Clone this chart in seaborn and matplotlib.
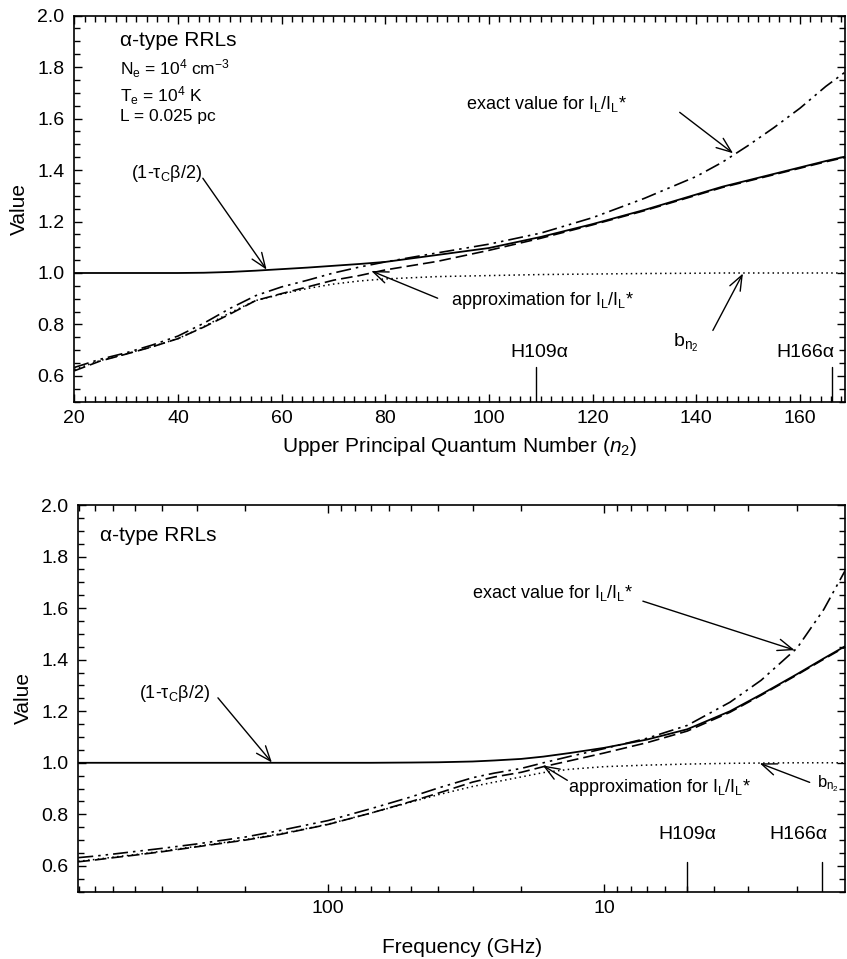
import numpy as np
import pandas as pd
import matplotlib
matplotlib.use("Agg")
import matplotlib.pyplot as plt
import seaborn as sns
from matplotlib.ticker import MultipleLocator, FixedLocator, NullFormatter, FuncFormatter

# ---------------- data: top panel (vs upper principal quantum number) ----------------
n_top = [20, 25, 30, 35, 40, 45, 50, 55, 60, 65, 70, 75, 80, 90, 100, 110, 120,
         130, 140, 145, 150, 155, 160, 165, 168.7]
top_tau = [1.0, 1.0, 1.0, 1.0, 1.0, 1.001, 1.004, 1.009, 1.015, 1.021, 1.028, 1.035,
           1.043, 1.07, 1.097, 1.14, 1.19, 1.245, 1.305, 1.335, 1.36, 1.385, 1.41, 1.435, 1.452]
top_exact = [0.633, 0.665, 0.69, 0.72, 0.755, 0.805, 0.862, 0.912, 0.946, 0.972, 1.0, 1.023,
             1.043, 1.078, 1.112, 1.155, 1.215, 1.29, 1.375, 1.43, 1.495, 1.565, 1.64, 1.725, 1.78]
top_approx = [0.62, 0.658, 0.685, 0.713, 0.745, 0.79, 0.84, 0.893, 0.92, 0.946, 0.972, 0.99,
              1.012, 1.045, 1.088, 1.135, 1.187, 1.242, 1.302, 1.332, 1.357, 1.382, 1.407, 1.432, 1.449]
top_bn2 = [0.625, 0.66, 0.686, 0.714, 0.745, 0.792, 0.845, 0.893, 0.918, 0.94, 0.957, 0.969,
           0.977, 0.986, 0.99, 0.994, 0.996, 0.998, 0.999, 1.0, 1.0, 1.0, 1.0, 1.0, 1.0]

# ---------------- data: bottom panel (vs frequency, GHz) ----------------
f_bot = [805, 700, 600, 500, 400, 300, 200, 150, 100, 70, 50, 40, 30, 25, 20, 16.6,
         13.3, 10, 7, 5, 3.5, 2.7, 2.0, 1.6, 1.34]
bot_tau = [1.0, 1.0, 1.0, 1.0, 1.0, 1.0, 1.0, 1.0, 1.0, 1.0, 1.001, 1.002, 1.005, 1.009,
           1.015, 1.024, 1.038, 1.058, 1.09, 1.13, 1.2, 1.265, 1.344, 1.405, 1.452]
bot_exact = [0.632, 0.638, 0.646, 0.656, 0.668, 0.685, 0.712, 0.737, 0.776, 0.822, 0.868,
             0.902, 0.942, 0.96, 0.978, 1.0, 1.025, 1.055, 1.095, 1.145, 1.235, 1.32, 1.445, 1.595, 1.745]
bot_approx = [0.616, 0.623, 0.632, 0.642, 0.655, 0.674, 0.7, 0.722, 0.761, 0.805, 0.85,
              0.882, 0.925, 0.945, 0.963, 0.985, 1.008, 1.038, 1.078, 1.123, 1.196, 1.262, 1.341, 1.402, 1.449]
bot_bn2 = [0.618, 0.625, 0.634, 0.644, 0.657, 0.676, 0.702, 0.724, 0.762, 0.805, 0.848,
           0.876, 0.908, 0.925, 0.945, 0.962, 0.975, 0.985, 0.991, 0.995, 0.998, 0.999, 1.0, 1.0, 1.0]

lines_H = ["H109\u03b1", "H166\u03b1"]
H_n = [109, 166.1]
H_f = [5.0, 1.63]

freq_major = [100, 10]
freq_minor = [800, 700, 600, 500, 400, 300, 200, 90, 80, 70, 60, 50, 40, 30, 20,
              9, 8, 7, 6, 5, 4, 3, 2]

# ---------------- style ----------------
sns.set_theme(style="ticks")
plt.rcParams["font.family"] = ["Liberation Sans", "DejaVu Sans"]
plt.rcParams["mathtext.fontset"] = "custom"
plt.rcParams["mathtext.rm"] = "Liberation Sans"
plt.rcParams["mathtext.it"] = "Liberation Sans:italic"
plt.rcParams["mathtext.default"] = "regular"
plt.rcParams["axes.edgecolor"] = "black"
plt.rcParams["axes.linewidth"] = 1.2
plt.rcParams["text.color"] = "black"
plt.rcParams["axes.labelcolor"] = "black"
plt.rcParams["xtick.color"] = "black"
plt.rcParams["ytick.color"] = "black"
plt.rcParams["xtick.labelcolor"] = "black"
plt.rcParams["ytick.labelcolor"] = "black"

fig = plt.figure(figsize=(8.47, 9.59), dpi=100)
ax1 = fig.add_axes([0.0877, 0.5811, 0.9100, 0.4027])
ax2 = fig.add_axes([0.0924, 0.0702, 0.9053, 0.4032])

styles = {
    "tau": dict(linestyle="-", linewidth=1.3),
    "exact": dict(linestyle=(0, (9, 3, 1.5, 3, 1.5, 3)), linewidth=1.2),
    "approx": dict(linestyle=(0, (7, 3)), linewidth=1.2),
    "bn2": dict(linestyle=(0, (1, 2.2)), linewidth=1.1),
}

def draw(ax, x, series):
    for key, vals in series.items():
        df = pd.DataFrame({"x": x, "y": vals})
        sns.lineplot(data=df, x="x", y="y", ax=ax, color="black", errorbar=None,
                     sort=False, legend=False, **styles[key])

draw(ax1, n_top, {"tau": top_tau, "approx": top_approx, "exact": top_exact, "bn2": top_bn2})
ax2.set_xscale("log")
draw(ax2, f_bot, {"tau": bot_tau, "approx": bot_approx, "exact": bot_exact, "bn2": bot_bn2})

for ax in (ax1, ax2):
    ax.set_ylim(0.5, 2.0)
    ax.yaxis.set_major_locator(MultipleLocator(0.2))
    ax.yaxis.set_minor_locator(MultipleLocator(0.05))
    ax.yaxis.set_major_formatter(FuncFormatter(lambda v, p: "" if v < 0.55 else f"{v:.1f}"))
    ax.tick_params(which="both", direction="in", top=True, right=True, colors="black",
                   labelcolor="black", labelsize=14, width=1.0)
    ax.tick_params(which="major", length=6)
    ax.tick_params(which="minor", length=4)
    ax.tick_params(axis="y", which="major", pad=7)
    ax.tick_params(axis="x", which="major", pad=6)
    ax.set_ylabel("Value", fontsize=15, labelpad=6, color="black")

ax1.set_xlim(20, 168.7)
ax1.xaxis.set_major_locator(MultipleLocator(20))
ax1.xaxis.set_minor_locator(MultipleLocator(2))
ax1.set_xlabel("Upper Principal Quantum Number ($\\mathit{n_2}$)", fontsize=15, labelpad=6)

ax2.set_xlim(805, 1.34)
ax2.xaxis.set_major_locator(FixedLocator(freq_major))
ax2.xaxis.set_minor_locator(FixedLocator(freq_minor))
ax2.xaxis.set_minor_formatter(NullFormatter())
ax2.xaxis.set_major_formatter(FuncFormatter(lambda v, p: f"{v:g}"))
ax2.set_xlabel("Frequency (GHz)", fontsize=15, labelpad=15)

# H line markers
for xv in H_n:
    ax1.plot([xv, xv], [0.5, 0.634], color="black", lw=1.0)
ax1.text(109.8, 0.692, lines_H[0], ha="center", va="center", fontsize=14)
ax1.text(161.0, 0.692, lines_H[1], ha="center", va="center", fontsize=14)
for xv in H_f:
    ax2.plot([xv, xv], [0.5, 0.616], color="black", lw=1.0)
ax2.text(4.98, 0.72, lines_H[0], ha="center", va="center", fontsize=14)
ax2.text(1.97, 0.72, lines_H[1], ha="center", va="center", fontsize=14)

arrow = dict(arrowstyle="->,head_length=0.9,head_width=0.35", color="black", lw=1.0,
             shrinkA=0, shrinkB=0)

def arr(ax, start, tip):
    ax.annotate("", xy=tip, xytext=start, arrowprops=arrow)

# top panel texts
ax1.text(28.8, 1.904, "\u03b1-type RRLs", fontsize=15, ha="left", va="center")
ax1.text(28.8, 1.795, "N$_e$ = 10$^4$ cm$^{-3}$", fontsize=12.5, ha="left", va="center")
ax1.text(28.8, 1.69, "T$_e$ = 10$^4$ K", fontsize=12.5, ha="left", va="center")
ax1.text(28.8, 1.606, "L = 0.025 pc", fontsize=12.5, ha="left", va="center")
ax1.text(37.8, 1.387, "(1-\u03c4$_C$\u03b2/2)", fontsize=13, ha="center", va="center")
arr(ax1, (44.8, 1.368), (57.1, 1.013))
ax1.text(95.6, 1.655, "exact value for I$_L$/I$_L$*", fontsize=13, ha="left", va="center")
arr(ax1, (136.8, 1.624), (147.1, 1.465))
ax1.text(92.6, 0.894, "approximation for I$_L$/I$_L$*", fontsize=13, ha="left", va="center")
arr(ax1, (90.1, 0.902), (77.3, 1.008))
ax1.text(138.0, 0.727, "b$_{n_2}$", fontsize=14, ha="center", va="center")
arr(ax1, (143.2, 0.777), (149.0, 0.998))

# bottom panel texts
ax2.text(672, 1.88, "\u03b1-type RRLs", fontsize=15, ha="left", va="center")
ax2.text(359, 1.268, "(1-\u03c4$_C$\u03b2/2)", fontsize=13, ha="center", va="center")
arr(ax2, (251, 1.252), (160, 1.001))
ax2.text(30.1, 1.658, "exact value for I$_L$/I$_L$*", fontsize=13, ha="left", va="center")
arr(ax2, (7.24, 1.627), (2.04, 1.437))
ax2.text(13.5, 0.905, "approximation for I$_L$/I$_L$*", fontsize=13, ha="left", va="center")
arr(ax2, (13.6, 0.932), (16.7, 0.99))
ax2.text(1.69, 0.92, "b$_{n_2}$", fontsize=12, ha="left", va="center")
arr(ax2, (1.80, 0.924), (2.73, 0.998))

fig.savefig("out.png", dpi=100)
